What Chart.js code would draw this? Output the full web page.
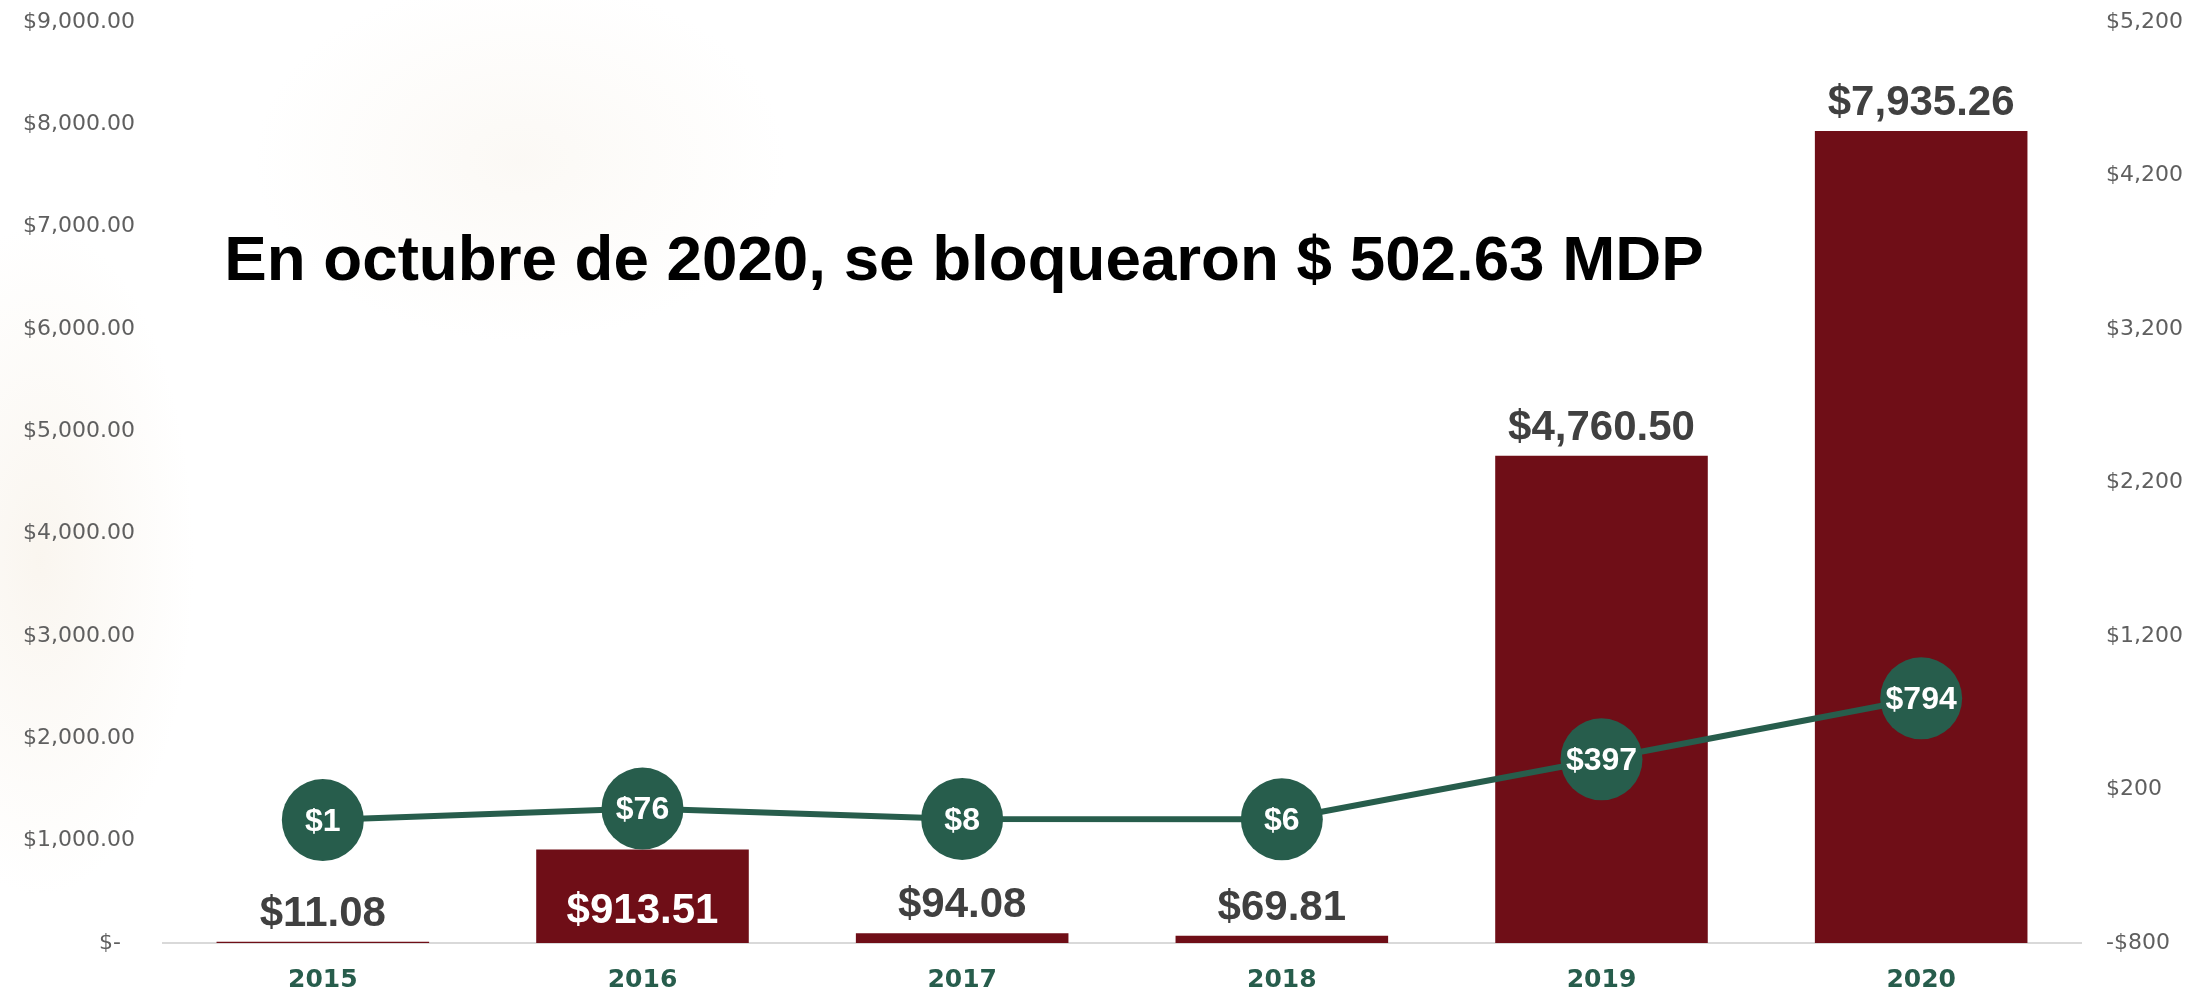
<!DOCTYPE html>
<html>
<head>
<meta charset="utf-8">
<script src="https://cdn.jsdelivr.net/npm/chart.js@4"></script>
<style>
  html, body { margin: 0; padding: 0; background: #ffffff; }
  #wrap {
    position: relative; width: 2193px; height: 993px;
    background:
      radial-gradient(ellipse 220px 480px at 40px 560px, rgba(240, 228, 210, 0.35), rgba(255,255,255,0) 70%),
      radial-gradient(ellipse 380px 260px at 520px 160px, rgba(240, 230, 215, 0.25), rgba(255,255,255,0) 70%),
      #ffffff;
  }
</style>
</head>
<body>
<div id="wrap"><canvas id="chart"></canvas></div>
<script>
// --- Data ---
const years = ['2015', '2016', '2017', '2018', '2019', '2020'];
const blockedAmounts = [11.08, 913.51, 94.08, 69.81, 4760.50, 7935.26];
const countValues = [1, 76, 8, 6, 397, 794];
const barLabels = ['$11.08', '$913.51', '$94.08', '$69.81', '$4,760.50', '$7,935.26'];
const pointLabels = ['$1', '$76', '$8', '$6', '$397', '$794'];
const headline = 'En octubre de 2020, se bloquearon $ 502.63 MDP';

const BAR_COLOR = '#6f0e17';
const GREEN = '#275d4c';
const TICK_COLOR = '#5f5f5f';

// --- Helpers ---
function formatLeft(v) {
    if (v === 0) return '$-  ';
    return '$' + v.toLocaleString('en-US', { minimumFractionDigits: 2, maximumFractionDigits: 2 });
}

function formatRight(v) {
    const s = '$' + Math.abs(v).toLocaleString('en-US');
    return v < 0 ? '-' + s : s;
}

// fixed axis width, and keep tick padding from pushing the plot down
function fitVertical(width) {
    return s => {
        s.width = width;
        s.paddingTop = 13;
        s.paddingBottom = 13;
    };
}

// draws the headline, bar value labels and the numbers inside the circles
const labelPlugin = {
    id: 'labels',
    afterDatasetsDraw(chart) {
        const ctx = chart.ctx;
        const barMeta = chart.getDatasetMeta(1);
        const lineMeta = chart.getDatasetMeta(0);
        ctx.save();
        ctx.textAlign = 'center';
        ctx.textBaseline = 'alphabetic';

        ctx.font = 'bold 42px "Liberation Sans", Arial, sans-serif';
        barMeta.data.forEach((bar, i) => {
            if (i === 1) {
                // 2016 label sits inside its bar, in white
                ctx.fillStyle = '#ffffff';
                ctx.fillText(barLabels[i], bar.x, bar.y + 73);
            } else {
                ctx.fillStyle = '#404040';
                ctx.fillText(barLabels[i], bar.x, bar.y - 16);
            }
        });

        ctx.font = 'bold 32px "Liberation Sans", Arial, sans-serif';
        ctx.fillStyle = '#ffffff';
        ctx.textBaseline = 'middle';
        lineMeta.data.forEach((pt, i) => {
            ctx.fillText(pointLabels[i], pt.x, pt.y + 2);
        });

        ctx.font = 'bold 63.7px "Liberation Sans", Arial, sans-serif';
        ctx.fillStyle = '#000000';
        ctx.textBaseline = 'alphabetic';
        ctx.fillText(headline, 964, 280);
        ctx.restore();
    }
};

const ctx = document.getElementById('chart').getContext('2d');
new Chart(ctx, {
    data: {
        labels: years,
        datasets: [
            {
                type: 'line', label: 'Casos', data: countValues, yAxisID: 'y1', order: 0,
                borderColor: GREEN, borderWidth: 6, tension: 0,
                pointRadius: 41, pointHoverRadius: 41, pointBackgroundColor: GREEN, pointBorderWidth: 0
            },
            {
                type: 'bar', label: 'Monto bloqueado', data: blockedAmounts, yAxisID: 'y', order: 1,
                backgroundColor: BAR_COLOR, barPercentage: 0.665, categoryPercentage: 1.0
            }
        ]
    },
    options: {
        responsive: true, maintainAspectRatio: false, animation: false,
        layout: { autoPadding: false, padding: { top: 22, right: 0, bottom: 0, left: 0 } },
        plugins: { legend: { display: false }, tooltip: { enabled: false } },
        scales: {
            x: {
                grid: { display: false },
                border: { display: true, color: '#d9d9d9', width: 2 },
                ticks: { color: GREEN, padding: 14, font: { family: '"DejaVu Sans"', size: 25, weight: 'bold' } },
                afterFit: s => { s.height = 50; }
            },
            y: {
                position: 'left', min: 0, max: 9000,
                grid: { display: false }, border: { display: false },
                ticks: { stepSize: 1000, color: TICK_COLOR, padding: 20, callback: formatLeft,
                         font: { family: '"DejaVu Sans"', size: 22 } },
                afterFit: fitVertical(163)
            },
            y1: {
                position: 'right', min: -800, max: 5200,
                grid: { display: false }, border: { display: false },
                ticks: { stepSize: 1000, color: TICK_COLOR, padding: 17, callback: formatRight,
                         font: { family: '"DejaVu Sans"', size: 22 } },
                afterFit: fitVertical(112)
            }
        }
    },
    plugins: [labelPlugin]
});
</script>
</body>
</html>
